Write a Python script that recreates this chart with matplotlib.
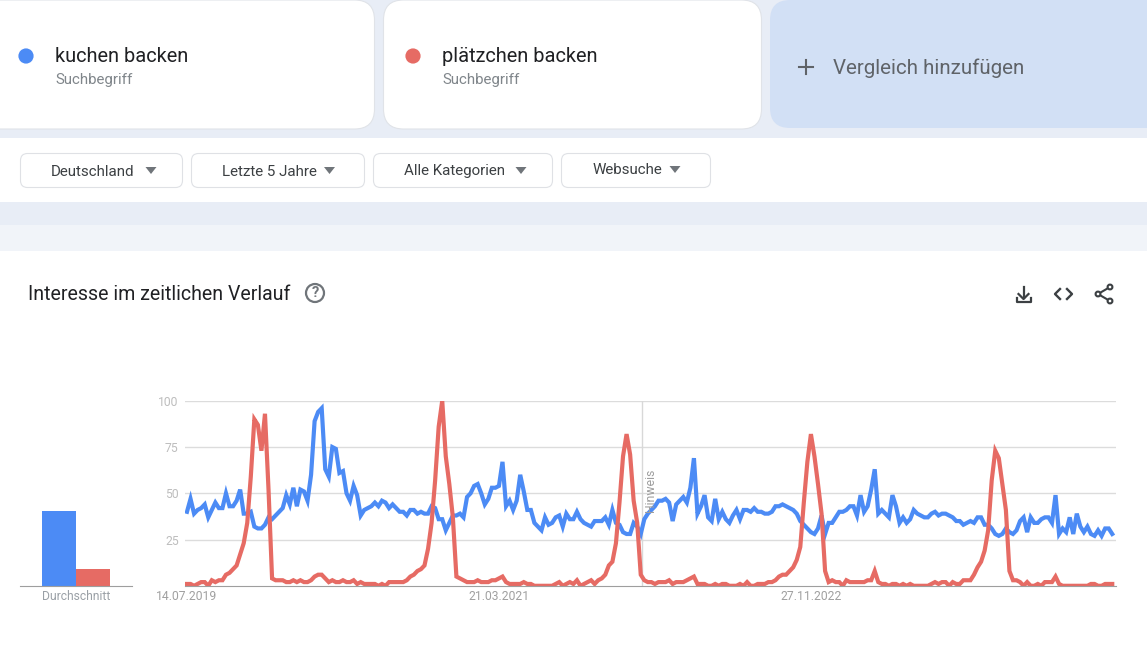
from matplotlib import pyplot as plt
from matplotlib.patches import Circle, FancyBboxPatch, Polygon
import numpy as np

W, H = 1147, 658

BLUE = '#4c8bf5'
RED = '#e66b64'

terms = ['kuchen backen', 'plätzchen backen']
chips = ['Deutschland', 'Letzte 5 Jahre', 'Alle Kategorien', 'Websuche']
date_labels = ['14.07.2019', '21.03.2021', '27.11.2022']
date_ticks = [0, 88, 176]
y_ticks = [25, 50, 75, 100]
averages = [40.5, 9.2]

kuchen = [
    40, 47, 39, 41, 42, 44, 37, 41, 45, 42, 42, 50, 43, 43, 46, 52, 39, 39, 40, 32,
    31, 31, 33, 37, 36, 38, 40, 42, 49, 44, 53, 43, 52, 51, 46, 60, 89, 94, 96, 63,
    59, 75, 74, 61, 62, 50, 46, 54, 49, 38, 41, 42, 43, 45, 43, 46, 45, 42, 44, 42,
    40, 40, 38, 41, 41, 39, 40, 39, 39, 43, 42, 36, 36, 30, 34, 38, 38, 39, 37, 48,
    50, 54, 55, 50, 44, 47, 53, 53, 54, 67, 43, 46, 41, 46, 60, 51, 41, 41, 34, 32,
    30, 37, 33, 34, 37, 38, 32, 39, 36, 36, 40, 36, 34, 33, 32, 35, 35, 35, 37, 33,
    41, 34, 33, 29, 28, 28, 34, 32, 28, 36, 39, 41, 43, 46, 46, 47, 45, 35, 44, 46,
    48, 45, 53, 69, 39, 43, 49, 37, 35, 47, 36, 40, 36, 34, 38, 41, 36, 41, 41, 40,
    42, 40, 40, 39, 39, 40, 43, 43, 44, 43, 42, 41, 39, 35, 33, 31, 29, 28, 31, 38,
    28, 34, 34, 37, 40, 40, 41, 43, 43, 38, 49, 40, 43, 52, 63, 39, 41, 39, 37, 49,
    43, 34, 37, 34, 36, 41, 39, 38, 37, 37, 39, 40, 38, 39, 39, 38, 37, 35, 35, 33,
    34, 35, 34, 37, 37, 33, 33, 31, 28, 27, 28, 31, 29, 28, 30, 35, 37, 29, 37, 34,
    34, 36, 37, 37, 34, 49, 28, 31, 29, 37, 28, 39, 32, 29, 32, 28, 27, 30, 27, 31,
    31, 28,
]
plaetzchen = [
    1, 1, 0, 1, 2, 2, 0, 3, 2, 3, 3, 6, 7, 9, 11, 17, 23, 34, 59, 90,
    87, 73, 93, 52, 4, 3, 3, 3, 2, 2, 3, 2, 3, 2, 2, 3, 5, 6, 6, 4,
    2, 3, 2, 2, 3, 2, 2, 3, 1, 2, 1, 1, 1, 1, 0, 1, 0, 2, 2, 2,
    2, 2, 3, 5, 6, 8, 9, 11, 20, 34, 57, 86, 100, 70, 55, 37, 5, 4, 3, 2,
    2, 2, 3, 2, 2, 2, 3, 3, 4, 5, 2, 1, 1, 1, 1, 2, 1, 1, 0, 0,
    0, 0, 0, 0, 1, 2, 0, 1, 2, 1, 3, 0, 1, 2, 3, 1, 3, 4, 6, 11,
    13, 23, 45, 70, 82, 71, 46, 34, 6, 3, 2, 2, 1, 2, 2, 2, 3, 1, 2, 2,
    2, 3, 4, 5, 1, 1, 1, 0, 0, 1, 0, 1, 1, 0, 0, 0, 1, 0, 2, 0,
    0, 1, 1, 1, 2, 2, 3, 5, 6, 6, 8, 10, 14, 21, 45, 67, 82, 70, 55, 39,
    8, 2, 3, 2, 2, 0, 3, 2, 2, 2, 2, 2, 3, 3, 8, 2, 1, 1, 0, 1,
    1, 0, 1, 0, 1, 0, 0, 0, 0, 0, 1, 2, 1, 2, 2, 0, 2, 1, 1, 3,
    3, 3, 6, 10, 13, 19, 30, 57, 73, 69, 55, 41, 8, 3, 3, 2, 0, 2, 0, 0,
    1, 0, 2, 2, 2, 5, 1, 0, 0, 0, 0, 0, 0, 0, 0, 1, 1, 0, 0, 1,
    1, 1,
]

plt.rcParams['font.family'] = ['Roboto', 'DejaVu Sans']

fig = plt.figure(figsize=(W / 100, H / 100), dpi=100)
fig.patch.set_facecolor('#e8edf6')


def px_axes(x0, y0, x1, y1):
    return fig.add_axes([x0 / W, 1 - y1 / H, (x1 - x0) / W, (y1 - y0) / H])


def box(x0, y0, x1, y1, r, fc, ec='none', lw=0.8):
    ui.add_patch(FancyBboxPatch((x0, y0), x1 - x0, y1 - y0,
                                boxstyle=f'round,pad=0,rounding_size={r}',
                                fc=fc, ec=ec, lw=lw))


# page furniture, in pixel coordinates
ui = fig.add_axes([0, 0, 1, 1])
ui.set_xlim(0, W)
ui.set_ylim(H, 0)
ui.axis('off')

ui.fill_between([0, W], 225, 300, color='#f1f4f9', lw=0)
box(-30, 251, W + 30, H + 40, 24, 'white')

box(-30, 0, 374.5, 129, 20, 'white', '#e0e3e8')
box(383.5, 0, 761.5, 129, 20, 'white', '#e0e3e8')
box(770, 0, W + 30, 128, 20, '#d2e0f5')
box(-30, 138, W + 30, 202, 20, 'white')

for cx, term, col in zip([26, 413], terms, [BLUE, RED]):
    ui.add_patch(Circle((cx, 56), 7.6, fc=col, ec='none'))
    ui.text(cx + 29, 57, term, fontsize=14.4, color='#202124', va='center')
    ui.text(cx + 29, 80, 'Suchbegriff', fontsize=10.9, color='#80868b', va='center')

ui.plot([799, 813], [67, 67], color='#5f6368', lw=1.5)
ui.plot([806, 806], [60, 74], color='#5f6368', lw=1.5)
ui.text(833, 68, 'Vergleich hinzufügen', fontsize=14.8, color='#5f6368', va='center')

chip_edges = [(20, 183), (191, 365), (373, 553), (561, 711)]
text_x = [51, 222.5, 404, 592.5]
text_y = [171.5, 171.5, 171.5, 170.5]
arrow_x = [151, 329.5, 521, 675]
arrow_y = [167, 167, 167, 166]
for (x0, x1), tx, ty, ax_, ay, label in zip(chip_edges, text_x, text_y, arrow_x, arrow_y, chips):
    box(x0 + 0.5, 153.5, x1 - 0.5, 187.5, 7, 'white', '#dfe1e5')
    ui.text(tx, ty, label, fontsize=10.9, color='#3c4043', va='center')
    ui.add_patch(Polygon([[ax_ - 5.5, ay], [ax_ + 5.5, ay], [ax_, ay + 7]], fc='#70757a', ec='none'))

ui.text(28, 295, 'Interesse im zeitlichen Verlauf', fontsize=14.05, color='#202124', va='center')
ui.add_patch(Circle((315, 293), 9, fc='none', ec='#70757a', lw=1.6))
ui.text(315, 293, '?', fontsize=10.5, color='#70757a', ha='center', va='center', fontweight='bold')

# download icon
icon = '#3c4043'
ui.plot([1023.5, 1023.5], [287, 298], color=icon, lw=1.6)
ui.plot([1018.5, 1023.5, 1028.5], [294, 299, 294], color=icon, lw=1.6)
ui.plot([1016.5, 1016.5, 1031, 1031], [298, 302, 302, 298], color=icon, lw=1.6)
# embed icon
ui.plot([1060, 1055, 1060], [289, 294, 299], color=icon, lw=1.7)
ui.plot([1067, 1072, 1067], [289, 294, 299], color=icon, lw=1.7)
# share icon
ui.plot([1110, 1098, 1110], [287, 294, 301], color=icon, lw=1.5)
for cx, cy in [(1110, 287), (1098, 294), (1110, 301)]:
    ui.add_patch(Circle((cx, cy), 2.4, fc='white', ec=icon, lw=1.5, zorder=3))

# average bars
bx = px_axes(20, 400.8, 132, 585.8)
bx.patch.set_alpha(0)
bx.bar([0, 1], averages, width=1, color=[BLUE, RED])
bx.set_xlim(-1.15, 2.15)
bx.set_ylim(0, 100)
bx.set_yticks([])
bx.set_xticks([0.5])
bx.set_xticklabels(['Durchschnitt'], fontsize=8.7, color='#9aa0a6')
bx.tick_params(axis='x', length=0, pad=3)
for s in ['top', 'left', 'right']:
    bx.spines[s].set_visible(False)
bx.spines['bottom'].set_color('#9e9e9e')

# time series
ax = px_axes(185, 400.8, 1116, 585.8)
ax.patch.set_alpha(0)
weeks = np.arange(len(kuchen))
ax.set_xlim(-0.56, 262.06)
ax.set_ylim(0, 100)
ax.set_yticks(y_ticks)
ax.set_yticklabels([str(v) for v in y_ticks], fontsize=8.7, color='#bdbdbd')
ax.set_xticks(date_ticks)
ax.set_xticklabels(date_labels, fontsize=8.7, color='#a0a0a0')
ax.tick_params(axis='both', length=0)
ax.tick_params(axis='y', pad=4.5)
ax.tick_params(axis='x', pad=3)
ax.grid(axis='y', color='#dcdcdc', lw=1)
ax.set_axisbelow(True)
for s in ['top', 'left', 'right']:
    ax.spines[s].set_visible(False)
ax.spines['bottom'].set_color('#9e9e9e')

ax.axvline(128.4, color='#d8d8d8', lw=1, zorder=1)
ax.text(130.8, 51.5, 'Hinweis', rotation=90, fontsize=8.8, color='#9e9e9e', ha='center', va='center')

ax.plot(weeks, kuchen, color=BLUE, lw=3, solid_joinstyle='miter')
ax.plot(weeks, plaetzchen, color=RED, lw=3, solid_joinstyle='miter')

plt.savefig('out.png', dpi=100, facecolor=fig.get_facecolor())
